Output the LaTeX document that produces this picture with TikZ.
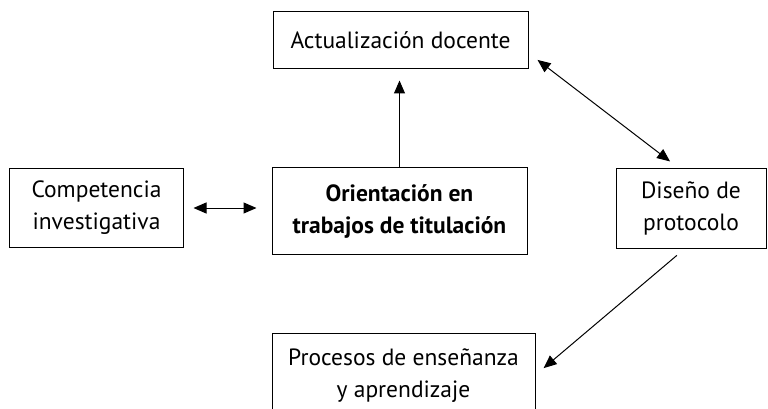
\documentclass[tikz,border=0pt]{standalone}
\usepackage{fontspec}
\setmainfont{PT Sans}
\usetikzlibrary{arrows.meta,calc}
\tikzset{
  box/.style={draw, line width=1pt, align=center, inner sep=0pt,
    font=\fontsize{23.5}{32}\selectfont},
  link/.style={line width=1pt, -{Triangle[length=13pt,width=11pt]}},
  dbllink/.style={line width=1pt,
    {Triangle[length=13pt,width=11pt]}-{Triangle[length=13pt,width=11pt]}}
}
\begin{document}
\begin{tikzpicture}[x=1pt,y=-1pt]
    \useasboundingbox (0,0) rectangle (768,409);
    \clip (0,0) rectangle (768,409);

    % Draw the boxes
    \node[box, minimum width=255pt, minimum height=57pt] (actual) at (400.5,40.5) {Actualización docente};
    \node[box, minimum width=174pt, minimum height=79pt] (comp) at (96.5,208) {Competencia\\investigativa};
    \node[box, minimum width=255pt, minimum height=87pt] (orient) at (399.5,211) {\bfseries Orientación en\\\bfseries trabajos de titulación};
    \node[box, minimum width=150pt, minimum height=80pt] (diseno) at (691,208) {Diseño de\\protocolo};
    \node[box, minimum width=263pt, minimum height=86pt] (proc) at (403.5,376) {Procesos de enseñanza\\y aprendizaje};

    % Draw the arrows
    \draw[link, shorten >=11pt] (orient.north) -- (orient.north |- actual.south);
    \draw[dbllink, shorten <=9.5pt, shorten >=15pt] (comp.east) -- (comp.east -| orient.west);
    \draw[dbllink, shorten <=11.4pt, shorten >=10pt] ($(actual.east)+(0,12.5)$) -- ($(diseno.north)+(-13,0)$);
    \draw[link, shorten <=10.6pt, shorten >=10.6pt] ($(diseno.south)+(-6,0)$) -- ($(proc.east)+(0,-1)$);
\end{tikzpicture}
\end{document}
